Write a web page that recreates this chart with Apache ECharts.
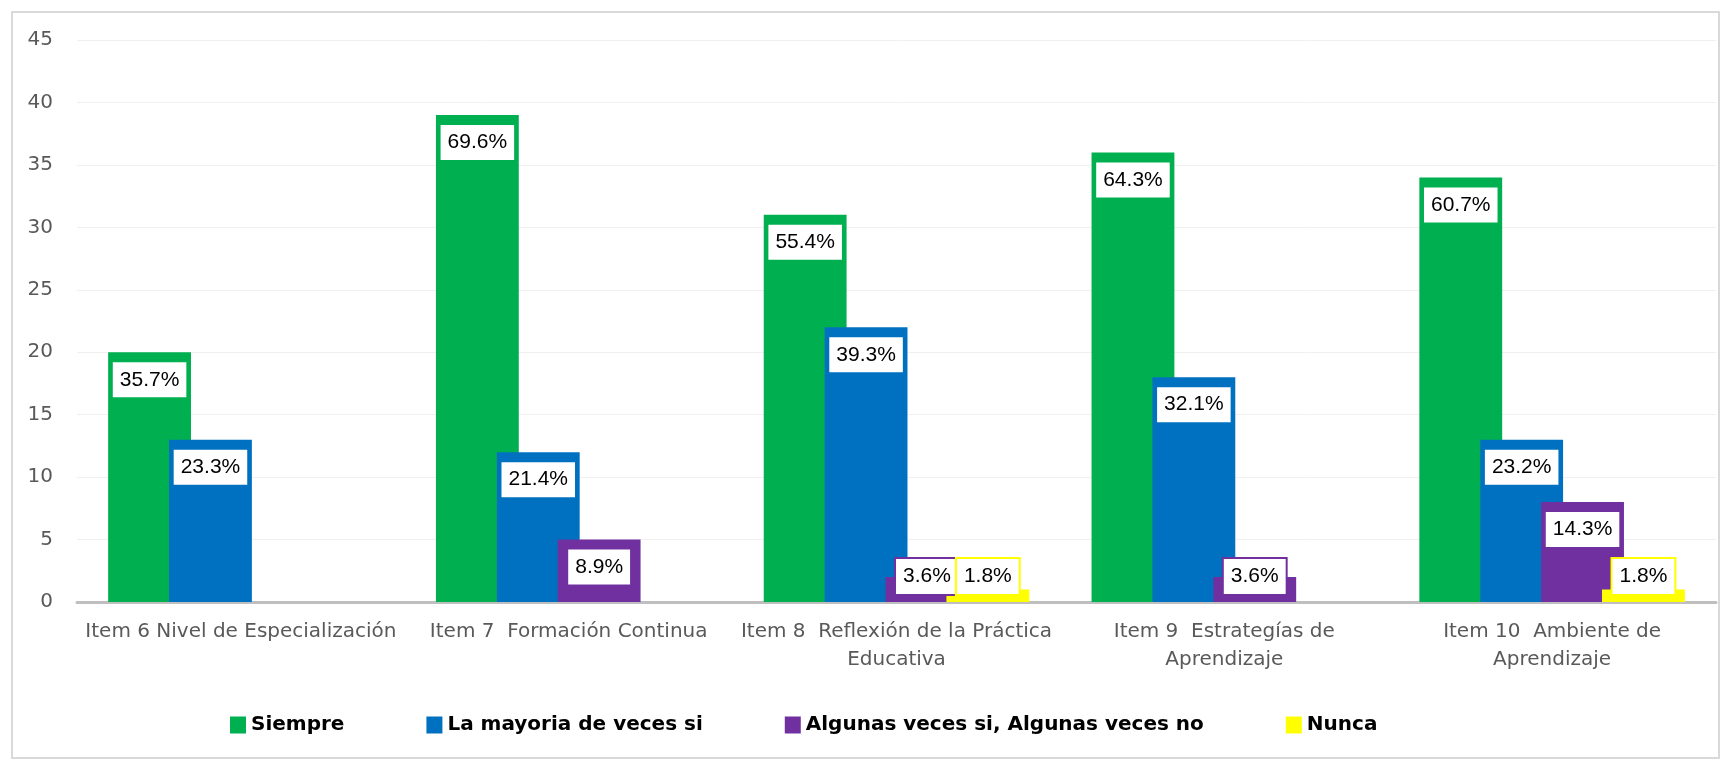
<!DOCTYPE html>
<html>
<head>
<meta charset="utf-8">
<script src="https://cdn.jsdelivr.net/npm/echarts@6/dist/echarts.min.js"></script>
<style>
  html, body { margin: 0; padding: 0; background: #fff; }
  #main { width: 1728px; height: 761px; }
</style>
</head>
<body>
<div id="main"></div>
<script>
// categories (line breaks as in the original axis labels)
var categories = [
  'Item 6 Nivel de Especialización',
  'Item 7  Formación Continua',
  'Item 8  Reflexión de la Práctica\nEducativa',
  'Item 9  Estrategías de\nAprendizaje',
  'Item 10  Ambiente de\nAprendizaje'
];
var seriesNames = ['Siempre', 'La mayoria de veces si', 'Algunas veces si, Algunas veces no', 'Nunca'];
var seriesColors = ['#00B050', '#0070C0', '#7030A0', '#FFFF00'];

// counts (null = no bar)
var siempre = [20, 39, 31, 36, 34];
var mayoria = [13, 12, 22, 18, 13];
var algunas = [null, 5, 2, 2, 8];
var nunca = [null, null, 1, null, 1];

// percentage labels shown on the bars
var siempreLbl = ['35.7%', '69.6%', '55.4%', '64.3%', '60.7%'];
var mayoriaLbl = ['23.3%', '21.4%', '39.3%', '32.1%', '23.2%'];
var algunasLbl = ['', '8.9%', '3.6%', '3.6%', '14.3%'];
var nuncaLbl = ['', '', '1.8%', '', '1.8%'];

var yTicks = { min: 0, max: 45, interval: 5 };

document.addEventListener('DOMContentLoaded', function() {
  var myChart = echarts.init(document.getElementById('main'));

  var values = [siempre, mayoria, algunas, nunca];
  var labels = [siempreLbl, mayoriaLbl, algunasLbl, nuncaLbl];

  var series = values.map(function(vals, s) {
    return {
      name: seriesNames[s],
      type: 'bar',
      barGap: '-26.5%',
      barCategoryGap: '19%',
      itemStyle: { color: seriesColors[s] },
      data: vals.map(function(v) {
        if (v === null) return '-';
        // short bars: Excel pushes the label up so it sits just above the axis
        var small = v < 4;
        return {
          value: v,
          label: {
            position: small ? 'insideBottom' : 'insideTop',
            distance: small ? 8 : 10
          }
        };
      }),
      label: {
        show: true,
        formatter: function(p) { return labels[s][p.dataIndex]; },
        color: '#000',
        fontFamily: 'Liberation Sans',
        fontSize: 21,
        lineHeight: 21,
        backgroundColor: '#fff',
        borderColor: seriesColors[s],
        borderWidth: 2,
        padding: [7, 7]
      },
      emphasis: { disabled: true }
    };
  });

  var option = {
    backgroundColor: '#fff',
    animation: false,
    graphic: [{
      type: 'rect',
      shape: { x: 12, y: 12, width: 1707, height: 746 },
      style: { fill: 'none', stroke: '#D9D9D9', lineWidth: 2 },
      silent: true
    }],
    grid: { left: 77, right: 12, top: 40, bottom: 159 },
    legend: {
      data: seriesNames,
      left: 225,
      top: 710,
      icon: 'rect',
      itemWidth: 16,
      itemHeight: 17,
      itemGap: 82,
      textStyle: { color: '#000', fontWeight: 'bold', fontSize: 20, fontFamily: 'DejaVu Sans' }
    },
    xAxis: {
      type: 'category',
      data: categories,
      axisLine: { lineStyle: { color: '#BFBFBF', width: 3 } },
      axisTick: { show: false },
      axisLabel: {
        color: '#595959',
        fontFamily: 'DejaVu Sans',
        fontSize: 20,
        lineHeight: 28,
        margin: 16,
        interval: 0
      }
    },
    yAxis: {
      type: 'value',
      min: yTicks.min,
      max: yTicks.max,
      interval: yTicks.interval,
      axisLine: { show: false },
      axisTick: { show: false },
      axisLabel: { color: '#595959', fontFamily: 'DejaVu Sans', fontSize: 20, margin: 24 },
      splitLine: { lineStyle: { color: '#F0F0F0', width: 1 } }
    },
    series: series
  };

  myChart.setOption(option);
});
</script>
</body>
</html>
